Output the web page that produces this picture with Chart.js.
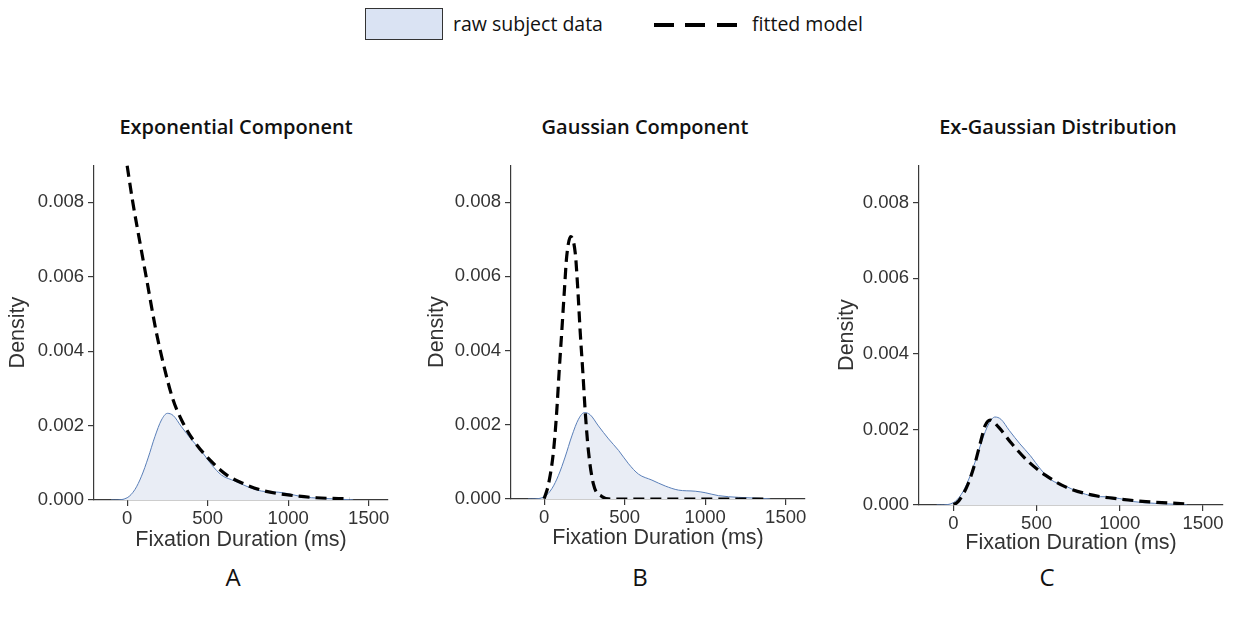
<!DOCTYPE html>
<html>
<head>
<meta charset="utf-8">
<script src="https://cdn.jsdelivr.net/npm/chart.js@4/dist/chart.umd.min.js"></script>
<style>
  html, body { margin: 0; padding: 0; background: #fff; }
  body { width: 1238px; height: 619px; position: relative; overflow: hidden; font-family: "Open Sans", sans-serif; color: #111; }
  canvas { position: absolute; }
  .titulo { position: absolute; font-weight: 600; font-size: 20px; transform: translateX(-50%); white-space: nowrap; }
  .letra { position: absolute; font-size: 24px; transform: translateX(-50%); }
  .leg-caixa { position: absolute; left: 365px; top: 8px; width: 78px; height: 32px; background: #dae3f3; border: 1.5px solid #333; box-sizing: border-box; }
  .leg-texto { position: absolute; top: 10px; font-size: 19.5px; white-space: nowrap; }
  .leg-traco { position: absolute; top: 23px; width: 20px; height: 4px; background: #000; }
</style>
</head>
<body>

<div class="leg-caixa"></div>
<div class="leg-texto" style="left:453px">raw subject data</div>
<div class="leg-traco" style="left:654px"></div>
<div class="leg-traco" style="left:685px"></div>
<div class="leg-traco" style="left:717px"></div>
<div class="leg-texto" style="left:752px">fitted model</div>

<div class="titulo" style="left:236px; top:113px">Exponential Component</div>
<div class="titulo" style="left:645px; top:113px">Gaussian Component</div>
<div class="titulo" style="left:1058px; top:113px">Ex-Gaussian Distribution</div>

<div class="letra" style="left:233px; top:560px">A</div>
<div class="letra" style="left:640px; top:560px">B</div>
<div class="letra" style="left:1047px; top:560px">C</div>

<canvas id="graficoA" width="400" height="410" style="left:0px; top:150px"></canvas>
<canvas id="graficoB" width="400" height="410" style="left:412px; top:150px"></canvas>
<canvas id="graficoC" width="426" height="415" style="left:812px; top:150px"></canvas>

<script>
// dados brutos (KDE do sujeito) - igual nos três painéis
const rawX = [-100, -76, 0, 48, 89, 130, 172, 213, 250, 286, 337, 400, 462, 524, 586, 669, 752, 834, 938, 1000, 1083, 1207, 1331, 1404];
const rawY = [0, 0, 0.00006, 0.00028, 0.00064, 0.00113, 0.0017, 0.00215, 0.00233, 0.00227, 0.00197, 0.00162, 0.00131, 0.00095, 0.00067, 0.00051, 0.00035, 0.00024, 0.00021, 0.00017, 0.00009, 0.000045, 0.00002, 0];

// modelo: componente exponencial
const expX = [0, 35, 76, 118, 180, 221, 283, 340, 412, 515, 619, 722, 845, 1011, 1176, 1382];
const expY = [0.00898, 0.008, 0.007, 0.006, 0.00453, 0.00373, 0.00272, 0.00213, 0.0016, 0.00107, 0.00067, 0.00044, 0.00025, 0.00013, 0.00006, 0.00003];

// modelo: componente gaussiana
const gaussX = [0, 27, 58, 78, 93, 109, 126, 140, 165, 193, 209, 224, 240, 255, 275, 306, 358, 420, 1385];
const gaussY = [0.00001, 0.0004, 0.00129, 0.00236, 0.00343, 0.00449, 0.00565, 0.00654, 0.00707, 0.00663, 0.00565, 0.00449, 0.00343, 0.00236, 0.00129, 0.0004, 0.00007, 0, 0];

// modelo: distribuição ex-gaussiana
const exgX = [0, 20, 50, 90, 130, 161, 191, 221, 272, 352, 453, 553, 674, 815, 956, 1157, 1399];
const exgY = [0.00002, 0.00005, 0.00022, 0.00057, 0.0011, 0.00162, 0.0021, 0.00225, 0.00206, 0.00162, 0.00114, 0.00079, 0.00048, 0.00028, 0.00018, 0.00009, 0.00003];

// eixos
const xTicks = [0, 500, 1000, 1500];
const yTicks = [0, 0.002, 0.004, 0.006, 0.008];
const xMin = -206, xMax = 1620;
const yMin = 0, yMax = 0.009;

function pontos(xs, ys) {
    return xs.map(function (x, i) { return { x: x, y: ys[i] }; });
}

const corEixo = '#3a3a3a';
const corTexto = '#333';

const paineis = [
    { id: 'graficoA', fitX: expX, fitY: expY, padTop: 13, padRight: 12, yw: 94, xh: 60, xTitlePad: 7, yTitlePad: 5 },
    { id: 'graficoB', fitX: gaussX, fitY: gaussY, padTop: 12, padRight: 7, yw: 99, xh: 61, xTitlePad: 9, yTitlePad: 12 },
    { id: 'graficoC', fitX: exgX, fitY: exgY, padTop: 13, padRight: 15, yw: 107, xh: 60, xTitlePad: 9, yTitlePad: 22 }
];

paineis.forEach(function (p) {
    const ctx = document.getElementById(p.id);
    new Chart(ctx.getContext('2d'), {
        type: 'line',
        data: {
            datasets: [
                {
                    label: 'fitted model',
                    data: pontos(p.fitX, p.fitY),
                    borderColor: '#000',
                    borderWidth: 3.2,
                    borderDash: [11, 6],
                    fill: false,
                    cubicInterpolationMode: 'monotone',
                    pointRadius: 0
                },
                {
                    label: 'raw subject data',
                    data: pontos(rawX, rawY),
                    borderColor: '#5a7fb8',
                    borderWidth: 1,
                    backgroundColor: '#e9edf5',
                    fill: 'origin',
                    cubicInterpolationMode: 'monotone',
                    pointRadius: 0
                }
            ]
        },
        options: {
            responsive: false,
            animation: false,
            layout: { padding: { top: p.padTop, right: p.padRight, left: 0, bottom: 0 } },
            plugins: {
                legend: { display: false },
                tooltip: { enabled: false }
            },
            scales: {
                x: {
                    type: 'linear',
                    min: xMin,
                    max: xMax,
                    afterBuildTicks: function (s) { s.ticks = xTicks.map(function (v) { return { value: v }; }); },
                    afterFit: function (s) { s.height = p.xh; },
                    grid: { drawOnChartArea: false, tickLength: 6, color: corEixo, lineWidth: 1.2 },
                    border: { color: corEixo, width: 1.2 },
                    ticks: {
                        font: { family: 'Liberation Sans', size: 18.5 },
                        color: corTexto,
                        padding: 2,
                        maxRotation: 0,
                        autoSkip: false,
                        callback: function (v) { return String(v); }
                    },
                    title: {
                        display: true,
                        text: 'Fixation Duration (ms)',
                        font: { family: 'Liberation Sans', size: 21.5 },
                        color: corTexto,
                        padding: { top: 0, bottom: p.xTitlePad }
                    }
                },
                y: {
                    min: yMin,
                    max: yMax,
                    afterBuildTicks: function (s) { s.ticks = yTicks.map(function (v) { return { value: v }; }); },
                    afterFit: function (s) { s.width = p.yw; },
                    grid: { drawOnChartArea: false, tickLength: 6, color: corEixo, lineWidth: 1.2 },
                    border: { color: corEixo, width: 1.2 },
                    ticks: {
                        font: { family: 'Liberation Sans', size: 18.5 },
                        color: corTexto,
                        padding: 4,
                        autoSkip: false,
                        callback: function (v) { return v.toFixed(3); }
                    },
                    title: {
                        display: true,
                        text: 'Density',
                        font: { family: 'Liberation Sans', size: 21.5 },
                        color: corTexto,
                        padding: { top: p.yTitlePad, bottom: 0 }
                    }
                }
            }
        }
    });
});
</script>
</body>
</html>
